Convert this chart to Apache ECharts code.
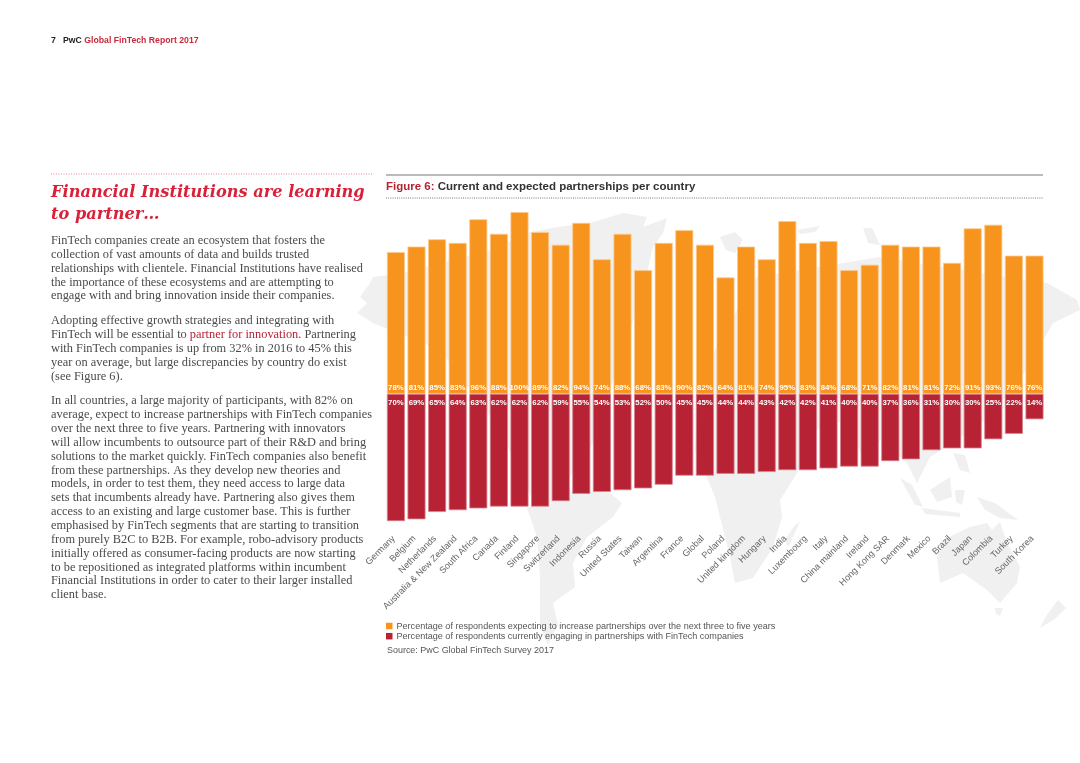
<!DOCTYPE html>
<html><head><meta charset="utf-8">
<style>html,body{margin:0;padding:0;background:#fff}#c{width:1080px;height:763px}</style>
<script src="https://cdn.jsdelivr.net/npm/echarts@6/dist/echarts.min.js"></script>
</head><body><div id="c"></div>
<script>
const categories = ["Germany","Belgium","Netherlands","Australia & New Zealand","South Africa","Canada","Finland","Singapore","Switzerland","Indonesia","Russia","United States","Taiwan","Argentina","France","Global","Poland","United kingdom","Hungary","India","Luxembourg","Italy","China mainland","Ireland","Hong Kong SAR","Denmark","Mexico","Brazil","Japan","Colombia","Turkey","South Korea"];
const expected = [78,81,85,83,96,88,100,89,82,94,74,88,68,83,90,82,64,81,74,95,83,84,68,71,82,81,81,72,91,93,76,76];
const current = [70,69,65,64,63,62,62,62,59,55,54,53,52,50,45,45,44,44,43,42,42,41,40,40,37,36,31,30,30,25,22,14];
const expectedName = "Percentage of respondents expecting to increase partnerships over the next three to five years";
const currentName = "Percentage of respondents currently engaging in partnerships with FinTech companies";
const headingLines = ["Financial Institutions are learning","to partner\u2026"];
const para1 = ["FinTech companies create an ecosystem that fosters the","collection of vast amounts of data and builds trusted","relationships with clientele. Financial Institutions have realised","the importance of these ecosystems and are attempting to","engage with and bring innovation inside their companies."];
const para2 = ["Adopting effective growth strategies and integrating with","FinTech will be essential to {r|partner for innovation.} Partnering","with FinTech companies is up from 32% in 2016 to 45% this","year on average, but large discrepancies by country do exist","(see Figure 6)."];
const para3 = ["In all countries, a large majority of participants, with 82% on","average, expect to increase partnerships with FinTech companies","over the next three to five years. Partnering with innovators","will allow incumbents to outsource part of their R&D and bring","solutions to the market quickly. FinTech companies also benefit","from these partnerships. As they develop new theories and","models, in order to test them, they need access to large data","sets that incumbents already have. Partnering also gives them","access to an existing and large customer base. This is further","emphasised by FinTech segments that are starting to transition","from purely B2C to B2B. For example, robo-advisory products","initially offered as consumer-facing products are now starting","to be repositioned as integrated platforms within incumbent","Financial Institutions in order to cater to their larger installed","client base."];

// decorative backdrop map, rough outlines
const backdrop = [
 [[357,313],[367,303],[360,297],[370,283],[373,277],[403,273],[490,250],[527,233],[557,227],[590,223],[623,213],[647,217],[643,227],[667,218],[663,233],[653,247],[640,300],[610,390],[590,450],[560,490],[535,505],[500,430],[440,350],[383,327],[373,323]],
 [[527,508],[560,490],[610,493],[622,503],[613,517],[587,537],[573,563],[575,587],[553,603],[558,625],[548,645],[540,625],[540,577],[537,537]],
 [[715,497],[695,450],[700,380],[725,330],[757,277],[800,270],[880,257],[960,270],[1047,283],[1077,300],[1080,310],[1053,323],[1020,380],[985,420],[950,445],[930,457],[917,483],[907,463],[880,440],[868,468],[845,420],[815,430],[797,473],[780,500],[782,517],[773,547],[753,578],[735,583],[730,557]],
 [[800,522],[788,547],[785,540],[795,525]],
 [[720,237],[735,232],[743,240],[735,253],[726,250]],
 [[797,230],[820,226],[815,232],[800,234]],
 [[863,228],[872,228],[880,245],[868,243]],
 [[900,478],[912,485],[923,507],[915,505]],
 [[930,490],[950,477],[952,497],[937,502]],
 [[922,508],[960,513],[960,517],[925,514]],
 [[953,453],[965,455],[970,473],[960,470]],
 [[955,490],[965,490],[962,505],[956,502]],
 [[977,497],[995,503],[1018,520],[1000,518],[985,510]],
 [[937,557],[943,540],[970,527],[987,523],[992,530],[1000,522],[1007,543],[1020,567],[1017,583],[1000,603],[987,590],[963,573],[940,583]],
 [[995,608],[1003,608],[1000,616],[996,614]],
 [[1058,600],[1066,608],[1056,618],[1040,628],[1046,616]]
];

const serif = '"Liberation Serif", serif';
const sans = '"Liberation Sans", Arial, sans-serif';
const graphics = [];
backdrop.forEach(p => graphics.push({type:'polygon',z:-10,silent:true,shape:{points:p},style:{fill:'#f0f0f0'}}));
function txt(x,y,text,style){graphics.push({type:'text',x,y,z:10,silent:true,style:Object.assign({text,textVerticalAlign:'middle',verticalAlign:'middle'},style)});}
function line(x1,y,x2,stroke,w,dash){graphics.push({type:'line',z:10,silent:true,shape:{x1,y1:y,x2,y2:y},style:{stroke,lineWidth:w,lineDash:dash||null}});}
headingLines.forEach((t,i)=>txt(51,193+i*21.6,t,{font:'italic bold 16.2px "DejaVu Serif", serif',fill:'#d9213a'}));
const bodyStyle={font:'12.37px '+serif,fill:'#4a4a4a',rich:{r:{font:'12.37px '+serif,fill:'#b82233'}}};
para1.forEach((t,i)=>txt(51,241+i*13.8,t,bodyStyle));
para2.forEach((t,i)=>txt(51,321+i*13.9,t,bodyStyle));
para3.forEach((t,i)=>txt(51,401+i*13.86,t,bodyStyle));
txt(51,41,'{k|7   PwC} Global FinTech Report 2017',{font:'bold 8.7px '+sans,fill:'#c8283a',rich:{k:{font:'bold 8.7px '+sans,fill:'#222'}}});
txt(386,186.5,'Figure 6: {k|Current and expected partnerships per country}',{font:'bold 11.5px '+sans,fill:'#b82233',rich:{k:{font:'bold 11.5px '+sans,fill:'#333'}}});
txt(387,650.5,'Source: PwC Global FinTech Survey 2017',{font:'8.95px '+sans,fill:'#555'});
line(51,174,372,'#e58a93',1,[1,1.5]);
line(386,175,1043,'#777',1);
line(386,198,1043,'#777',1,[1,1.2]);

const chart = echarts.init(document.getElementById('c'),null,{renderer:'canvas'});
chart.setOption({
 animation:false,
 backgroundColor:'#fff',
 grid:{left:385.6,width:659.2,top:212,height:309.1,containLabel:false},
 legend:{left:386,top:621.5,orient:'vertical',itemWidth:6.5,itemHeight:6.5,itemGap:1.2,icon:'rect',selectedMode:false,
   padding:0,itemStyle:{borderWidth:0},textStyle:{fontFamily:sans,fontSize:9.07,color:'#555',padding:[0,0,0,-1]},data:[expectedName,currentName]},
 xAxis:{type:'category',data:categories,position:'bottom',axisLine:{show:false,onZero:false},axisTick:{show:false},
   axisLabel:{interval:0,rotate:45,margin:14,padding:[0,3,0,0],fontFamily:sans,fontSize:9.1,color:'#666'}},
 yAxis:{type:'value',min:-70,max:100,show:false,splitLine:{show:false}},
 series:[
  {name:expectedName,type:'bar',stack:'a',barWidth:18,data:expected,
   itemStyle:{color:'#f7941e',borderColor:'#fcc98f',borderWidth:0.8},
   label:{show:true,position:'insideBottom',distance:2,formatter:p=>p.value+'%',color:'#fff',fontFamily:sans,fontSize:7.8,fontWeight:'bold'}},
  {name:currentName,type:'bar',stack:'a',barWidth:18,data:current.map(v=>-v),
   itemStyle:{color:'#b72234',borderColor:'#d87f8c',borderWidth:0.8},
   label:{show:true,position:'insideTop',distance:5,formatter:p=>(-p.value)+'%',color:'#fff',fontFamily:sans,fontSize:7.8,fontWeight:'bold'}}
 ],
 graphic:{elements:graphics}
});
</script></body></html>
